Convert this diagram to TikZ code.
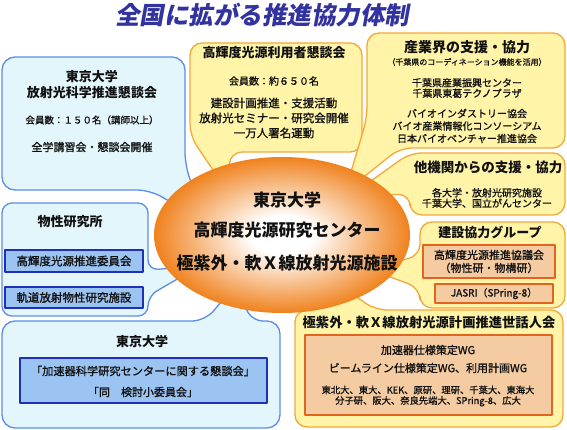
\documentclass[tikz,border=0pt]{standalone}
\usepackage{fontspec}
\setmainfont{Noto Sans CJK JP}
\newfontfamily\slantfont[FakeSlant=0.18]{Noto Sans CJK JP}
\newfontfamily\bodyfont[FakeBold=1.2]{Noto Sans CJK JP}
\usetikzlibrary{shapes.geometric}
\definecolor{ink}{HTML}{111111}
\definecolor{navy}{HTML}{33339F}
\definecolor{skyline}{HTML}{5C8DE8}
\definecolor{skyfill}{HTML}{E3F6FC}
\definecolor{deepblue}{HTML}{1F2FB8}
\definecolor{paleblue}{HTML}{9CC4F2}
\definecolor{sunline}{HTML}{F3A83C}
\definecolor{sunfill}{HTML}{FFF4A8}
\definecolor{rust}{HTML}{E2641E}
\definecolor{tan}{HTML}{F5CCA2}
\definecolor{ember}{HTML}{F0821E}
\pgfdeclareradialshading{glow}{\pgfpoint{0bp}{0bp}}%
  {color(0bp)=(white); color(6bp)=(white); color(25bp)=(ember); color(50bp)=(ember)}

\begin{document}
\begin{tikzpicture}[x=1pt,y=-1pt,text=ink,line join=round,
  bluebox/.style={draw=skyline,fill=skyfill,line width=1.3pt,rounded corners=13pt},
  sunbox/.style={draw=sunline,fill=sunfill,line width=1.3pt,rounded corners=12pt},
  bluecell/.style={draw=deepblue,fill=paleblue,line width=1.3pt,inner sep=0pt},
  tancell/.style={draw=rust,fill=tan,line width=1.3pt,inner sep=0pt},
  hd/.style 2 args={inner sep=0pt,align=center,font=\bfseries\fontsize{#1}{#2}\selectfont},
  tx/.style 2 args={inner sep=0pt,align=center,font=\bodyfont\fontsize{#1}{#2}\selectfont}]
  \useasboundingbox[fill=white] (0,0) rectangle (567,430);

  \node[hd={24.5}{26},text=navy] (heading) at (262,15) {\slantfont\bfseries 全国に拡がる推進協力体制};

  % callouts, their tips hidden under the centre ellipse
  \draw[bluebox] (2,57) -- (185,57) -- (185,165) -- (205,222) -- (150,190) -- (2,190) -- cycle;
  \draw[sunbox] (190,43) -- (362,43) -- (362,152) -- (230,152) -- (228,192) -- (190,136) -- cycle;
  \draw[sunbox] (367,33) -- (565,33) -- (565,148) -- (400,148) -- (345,192) -- (367,118) -- cycle;
  \draw[sunbox] (410,153) -- (565,153) -- (565,215) -- (410,215) -- (410,194) -- (350,196) -- cycle;
  \draw[sunbox] (420,222) -- (565,222) -- (565,308) -- (420,308) -- (420,288) -- (366,268) -- (420,256) -- cycle;
  \draw[sunbox] (295,310) -- (325,310) -- (322,272) -- (375,310) -- (563,310) -- (563,427) -- (295,427) -- cycle;
  \draw[bluebox,rounded corners=10pt] (2,203) -- (148,203) -- (148,270) -- (200,266) -- (148,296) -- (148,316) -- (2,316) -- cycle;
  \draw[bluebox] (2,321) -- (205,321) -- (238,282) -- (250,321) -- (280,321) -- (280,428) -- (2,428) -- cycle;

  \node[ellipse,shading=glow,minimum width=256pt,minimum height=156pt,inner sep=0pt] (core) at (282,235) {};
  \node[hd={17}{19}] (coreA) at (287,200) {東京大学};
  \node[hd={17}{19}] (coreB) at (287,230) {高輝度光源研究センター};
  \node[hd={17}{19}] (coreC) at (287,263) {極紫外・軟Ｘ線放射光源施設};

  % Univ. of Tokyo SR council
  \node[hd={13}{16}] (srTitle) at (92,85) {東京大学\\放射光科学推進懇談会};
  \node[tx={9.5}{11}] (srMembers) at (92,120) {会員数：１５０名（講師以上）};
  \node[tx={11}{13}] (srEvents) at (92,147) {全学講習会・懇談会開催};

  % users' council
  \node[hd={13}{15}] (userTitle) at (274,53) {高輝度光源利用者懇談会};
  \node[tx={10}{12}] (userMembers) at (274,81) {会員数：約６５０名};
  \node[tx={11.5}{15}] (userWork) at (274,118) {建設計画推進・支援活動\\放射光セミナー・研究会開催\\一万人署名運動};

  % industry
  \node[hd={14}{16}] (indTitle) at (467,47) {産業界の支援・協力};
  \node[tx={8}{9}] (indNote) at (467,62) {（千葉県のコーディネーション機能を活用）};
  \node[tx={10}{10.5}] (indChiba) at (467,88) {千葉県産業振興センター\\千葉県東葛テクノプラザ};
  \node[tx={10}{12.5}] (indBio) at (467,126) {バイオインダストリー協会\\バイオ産業情報化コンソーシアム\\日本バイオベンチャー推進協会};

  % other institutes
  \node[hd={13.5}{15}] (instTitle) at (488,167) {他機関からの支援・協力};
  \node[tx={10}{10.5}] (instList) at (487,198) {各大学・放射光研究施設\\千葉大学、国立がんセンター};

  % construction group
  \node[hd={13}{15}] (buildTitle) at (490,232) {建設協力グループ};
  \node[tancell,minimum width=132pt,minimum height=33pt] (buildCouncil) at (489,261.5) {};
  \node[tx={11}{13}] (buildCouncilText) at (buildCouncil) {高輝度光源推進協議会\\（物性研・物構研）};
  \node[tancell,minimum width=118pt,minimum height=19pt,font=\bodyfont\fontsize{10}{12}\selectfont] (jasri) at (494,293.5) {JASRI（SPring-8）};

  % planning committee
  \node[hd={13.3}{15}] (planTitle) at (429,322) {極紫外・軟Ｘ線放射光源計画推進世話人会};
  \node[tancell,minimum width=247pt,minimum height=80pt] (planWG) at (428.5,375) {};
  \node[tx={11}{13}] (planAcc) at (428,350) {加速器仕様策定WG};
  \node[tx={11}{13}] (planBeam) at (428,368) {ビームライン仕様策定WG、利用計画WG};
  \node[tx={9.3}{10.5}] (planMembers) at (428,396) {東北大、東大、KEK、原研、理研、千葉大、東海大\\分子研、阪大、奈良先端大、SPring-8、広大};

  % ISSP
  \node[hd={13}{15}] (isspTitle) at (70,222) {物性研究所};
  \node[bluecell,minimum width=138pt,minimum height=22pt,font=\bodyfont\fontsize{11.5}{13}\selectfont] (isspCommittee) at (74,261) {高輝度光源推進委員会};
  \node[bluecell,minimum width=138pt,minimum height=21pt,font=\bodyfont\fontsize{11.5}{13}\selectfont] (isspSOR) at (74,297.5) {軌道放射物性研究施設};

  % Univ. of Tokyo accelerator centre council
  \node[hd={13}{15}] (accTitle) at (142,342) {東京大学};
  \node[bluecell,minimum width=247pt,minimum height=45pt] (accCouncil) at (143.5,380.5) {};
  \node[tx={11.2}{13}] (accMain) at (143,371) {「加速器科学研究センターに関する懇談会」};
  \node[tx={11}{13}] (accSub) at (143,392) {「同　検討小委員会」};
\end{tikzpicture}
\end{document}
